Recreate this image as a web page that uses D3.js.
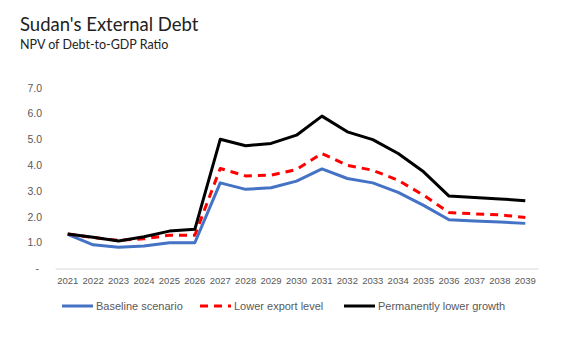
<!DOCTYPE html>
<html>
<head>
<meta charset="utf-8">
<script src="https://cdn.jsdelivr.net/npm/d3@7"></script>
<style>
  body { margin: 0; background: #fff; }
  svg { display: block; }
</style>
</head>
<body>
<svg id="chart" width="561" height="337"></svg>
<script>
// data
const years = ["2021","2022","2023","2024","2025","2026","2027","2028","2029","2030",
  "2031","2032","2033","2034","2035","2036","2037","2038","2039"];
const baseline = [1.32, 0.92, 0.82, 0.87, 1.0, 1.0, 3.32, 3.07, 3.13, 3.39,
  3.86, 3.49, 3.32, 2.95, 2.45, 1.89, 1.84, 1.80, 1.75];
const lowerExport = [1.34, 1.20, 1.09, 1.15, 1.29, 1.29, 3.88, 3.59, 3.62, 3.84,
  4.46, 4.00, 3.81, 3.42, 2.84, 2.17, 2.12, 2.08, 1.98];
const lowerGrowth = [1.34, 1.21, 1.07, 1.23, 1.45, 1.52, 5.01, 4.76, 4.85, 5.17,
  5.91, 5.30, 5.00, 4.46, 3.75, 2.81, 2.75, 2.70, 2.63];
const yTicks = [0, 1, 2, 3, 4, 5, 6, 7];

const seriesList = [
  { name: "Baseline scenario", values: baseline, color: "#4472c4", dash: null },
  { name: "Lower export level", values: lowerExport, color: "#ff0000", dash: "8,6" },
  { name: "Permanently lower growth", values: lowerGrowth, color: "#000000", dash: null }
];

const svg = d3.select("#chart");
const font = "'Liberation Sans', Arial, sans-serif";

// titles
svg.append("text")
  .attr("x", 20).attr("y", 31)
  .attr("font-family", "Lato, sans-serif")
  .attr("font-size", 18.5)
  .attr("fill", "#222")
  .text("Sudan's External Debt");
svg.append("text")
  .attr("x", 20).attr("y", 48.5)
  .attr("font-family", "Lato, sans-serif")
  .attr("font-size", 12.5)
  .attr("fill", "#222")
  .text("NPV of Debt-to-GDP Ratio");

// scales
const x = d3.scaleBand().domain(years).range([55, 538]);
const y = d3.scaleLinear().domain([0, 7]).range([268.5, 88]);

// y labels
svg.append("g").selectAll("text")
  .data(yTicks)
  .enter().append("text")
  .attr("x", d => d === 0 ? 39 : 42)
  .attr("y", d => y(d))
  .attr("dy", "0.35em")
  .attr("text-anchor", "end")
  .attr("font-family", font)
  .attr("font-size", 10.5)
  .attr("fill", "#595959")
  .text(d => d === 0 ? "-" : d.toFixed(1));

// x axis
const xAxis = svg.append("g")
  .attr("transform", `translate(0,${y(0)})`)
  .call(d3.axisBottom(x).tickSize(0).tickPadding(9));
xAxis.select(".domain").attr("stroke", "#d9d9d9").attr("stroke-width", 1);
xAxis.selectAll("text")
  .attr("font-family", font)
  .attr("font-size", 9.5)
  .attr("fill", "#595959");

// lines
const line = d3.line()
  .x((d, i) => x(years[i]) + x.bandwidth() / 2)
  .y(d => y(d));

svg.append("g").selectAll("path")
  .data(seriesList)
  .enter().append("path")
  .attr("d", d => line(d.values))
  .attr("fill", "none")
  .attr("stroke", d => d.color)
  .attr("stroke-width", 3)
  .attr("stroke-linejoin", "round")
  .attr("stroke-dasharray", d => d.dash);

// legend
const legendPos = [62, 200, 344];
const legend = svg.append("g").selectAll("g")
  .data(seriesList)
  .enter().append("g")
  .attr("transform", (d, i) => `translate(${legendPos[i]},306)`);
legend.append("line")
  .attr("x1", 0).attr("x2", 31)
  .attr("stroke", d => d.color)
  .attr("stroke-width", 3)
  .attr("stroke-dasharray", d => d.dash);
legend.append("text")
  .attr("x", 34)
  .attr("dy", "0.35em")
  .attr("font-family", font)
  .attr("font-size", 11)
  .attr("fill", "#595959")
  .text(d => d.name);
</script>
</body>
</html>
